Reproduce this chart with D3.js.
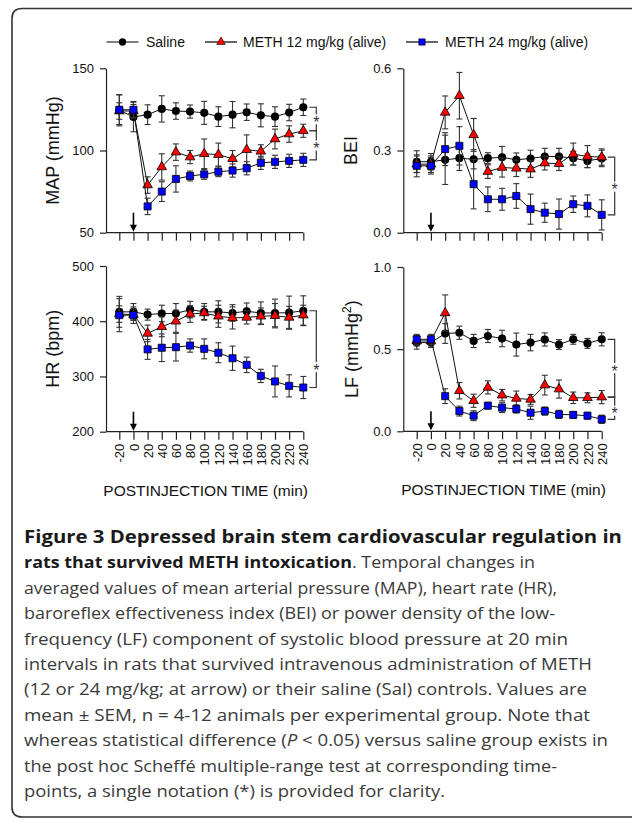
<!DOCTYPE html>
<html><head><meta charset="utf-8">
<script src="https://cdn.jsdelivr.net/npm/d3@7"></script>
<style>body{margin:0;background:#fff}svg{display:block}</style>
</head><body><div id="chart"></div>
<script>
// ---------------- DATA ----------------
const timePoints = [-20, 0, 20, 40, 60, 80, 100, 120, 140, 160, 180, 200, 220, 240];
const timeTickLabels = ["-20","0","20","40","60","80","100","120","140","160","180","200","220","240"];
const seriesNames = ["Saline", "METH 12 mg/kg (alive)", "METH 24 mg/kg (alive)"];

const mapSaline    = [124.5,120.4,121.8,125.3,124,123.7,122.9,120.6,121.8,123.3,121.4,120.6,123.1,126.3];
const mapSalineSem = [9.5,9,6,8,5,4,7,6,8,5,7,6,5,5];
const mapMeth12    = [124,124,79,90,99,96,98,97.5,95,100.5,99.5,107,110,112];
const mapMeth12Sem = [5,4,5,8,5,4,9,7,5,9,4,6,5,4];
const mapMeth24    = [124.8,124.8,66,75,82.7,84.5,85.5,87.1,87.8,89.2,92.5,93.1,93.7,94.3];
const mapMeth24Sem = [9,5,5,6,8,3,3,3,4,4,4,4,4,4];
const mapTicks = [50, 100, 150];

const beiSaline    = [0.259,0.259,0.266,0.272,0.268,0.272,0.275,0.266,0.271,0.278,0.278,0.272,0.262,0.271];
const beiSalineSem = [0.04,0.03,0.09,0.045,0.035,0.02,0.04,0.025,0.03,0.03,0.03,0.025,0.025,0.03];
const beiMeth12    = [0.25,0.25,0.439,0.5,0.357,0.223,0.238,0.235,0.232,0.254,0.252,0.287,0.278,0.276];
const beiMeth12Sem = [0.03,0.03,0.06,0.085,0.06,0.025,0.035,0.03,0.03,0.025,0.025,0.04,0.04,0.03];
const beiMeth24    = [0.244,0.244,0.305,0.317,0.177,0.122,0.122,0.134,0.086,0.073,0.068,0.104,0.098,0.065];
const beiMeth24Sem = [0.04,0.03,0.06,0.07,0.09,0.045,0.04,0.045,0.055,0.035,0.055,0.03,0.04,0.055];
const beiTicks = [0, 0.3, 0.6];

const hrSaline    = [417,417,412,414,414,421,417,417,415,418,415,415,415.5,419];
const hrSalineSem = [28,15,10,15,18,15,15,20,15,15,20,25,30,27];
const hrMeth12    = [413,412,378,390,400,413,415,409,406,407,409,410,407,411];
const hrMeth12Sem = [15,10,15,18,20,15,12,20,20,12,15,22,20,18];
const hrMeth24    = [411,411,349,352,353,356,350,343,333,321,301,291,283,280];
const hrMeth24Sem = [30,15,18,25,25,12,18,18,22,14,12,28,20,20];
const hrTicks = [200, 300, 400, 500];

const lfSaline    = [0.54,0.54,0.595,0.6,0.55,0.58,0.565,0.528,0.54,0.559,0.528,0.56,0.535,0.56];
const lfSalineSem = [0.04,0.03,0.06,0.04,0.04,0.04,0.05,0.07,0.05,0.04,0.03,0.03,0.03,0.04];
const lfMeth12    = [0.55,0.55,0.72,0.247,0.186,0.267,0.22,0.2,0.194,0.281,0.257,0.204,0.204,0.208];
const lfMeth12Sem = [0.03,0.03,0.11,0.05,0.04,0.04,0.035,0.045,0.03,0.06,0.055,0.035,0.03,0.04];
const lfMeth24    = [0.56,0.56,0.214,0.123,0.095,0.156,0.144,0.136,0.113,0.123,0.103,0.1,0.095,0.073];
const lfMeth24Sem = [0.03,0.03,0.045,0.03,0.03,0.02,0.03,0.025,0.04,0.025,0.025,0.02,0.02,0.025];
const lfTicks = [0, 0.5, 1.0];

// significance brackets: [from series, to series, asterisk value]
const mapBrackets = [[0,1,119],[1,2,103]];
const beiBrackets = [[1,2,0.168]];
const hrBrackets  = [[0,2,317]];
const lfBrackets  = [[0,1,0.384],[1,2,0.125]];

const captionLines = [
  [{t:"Figure 3 Depressed brain stem cardiovascular regulation in", b:1}],
  [{t:"rats that survived METH intoxication", b:1},{t:". Temporal changes in"}],
  [{t:"averaged values of mean arterial pressure (MAP), heart rate (HR),"}],
  [{t:"baroreflex effectiveness index (BEI) or power density of the low-"}],
  [{t:"frequency (LF) component of systolic blood pressure at 20 min"}],
  [{t:"intervals in rats that survived intravenous administration of METH"}],
  [{t:"(12 or 24 mg/kg; at arrow) or their saline (Sal) controls. Values are"}],
  [{t:"mean \u00b1 SEM, n = 4-12 animals per experimental group. Note that"}],
  [{t:"whereas statistical difference ("},{t:"P",i:1},{t:" < 0.05) versus saline group exists in"}],
  [{t:"the post hoc Scheff\u00e9 multiple-range test at corresponding time-"}],
  [{t:"points, a single notation (*) is provided for clarity."}]
];
const captionEnds = [622,535,557,555,568,592,587,590,608,557,445];

// ---------------- LAYOUT ----------------
const W = 632, H = 820;
const FONT = "'Liberation Sans', Arial, Helvetica, sans-serif";
const colors = ["#000000", "#ff0000", "#0000ff"];
const symbols = [d3.symbolCircle, d3.symbolTriangle, d3.symbolSquare];
const symSizes = [52, 40, 50];

const svg = d3.select("#chart").append("svg").attr("width", W).attr("height", H)
  .style("font-family", FONT);

// frame
svg.append("path")
  .attr("d", `M ${W+20} 8.5 H 22 Q 12 8.5 12 18.5 V 807 Q 12 817 22 817 H ${W+20}`)
  .attr("fill", "none").attr("stroke", "#333").attr("stroke-width", 1.6);

// legend
const legendItems = [
  {x0:106.5, x1:138.5, tx:146},
  {x0:205, x1:237, tx:243},
  {x0:406, x1:438, tx:445}
];
const lg = svg.append("g");
seriesNames.forEach((name, i) => {
  const it = legendItems[i], cy = 42;
  lg.append("line").attr("x1", it.x0).attr("x2", it.x1).attr("y1", cy).attr("y2", cy)
    .attr("stroke", "#000").attr("stroke-width", 1.2);
  lg.append("path").attr("d", d3.symbol(symbols[i], symSizes[i] * 0.8)())
    .attr("transform", `translate(${(it.x0 + it.x1) / 2},${cy})`)
    .attr("fill", colors[i]).attr("stroke", i === 0 ? "none" : "#000").attr("stroke-width", 0.6);
  lg.append("text").attr("x", it.tx).attr("y", cy).attr("dy", "0.36em")
    .attr("font-size", 14).attr("fill", "#111").text(name);
});

const panels = [
  {label:"MAP (mmHg)", ax:106, x0:119.3, x1:303.3, yTop:68.3, yBot:232.7, domain:[50,150],
   ticks:mapTicks, fmt:d3.format("d"), series:[[mapSaline,mapSalineSem],[mapMeth12,mapMeth12Sem],[mapMeth24,mapMeth24Sem]],
   brackets:mapBrackets, showX:false, labelX:52.5},
  {label:"BEI", ax:403.3, x0:416.7, x1:601.7, yTop:68.3, yBot:232.7, domain:[0,0.6],
   ticks:beiTicks, fmt:d3.format(".1f"), series:[[beiSaline,beiSalineSem],[beiMeth12,beiMeth12Sem],[beiMeth24,beiMeth24Sem]],
   brackets:beiBrackets, showX:false, labelX:351},
  {label:"HR (bpm)", ax:106, x0:119.3, x1:303.3, yTop:266, yBot:431.7, domain:[200,500],
   ticks:hrTicks, fmt:d3.format("d"), series:[[hrSaline,hrSalineSem],[hrMeth12,hrMeth12Sem],[hrMeth24,hrMeth24Sem]],
   brackets:hrBrackets, showX:true, labelX:52.5},
  {label:"LF", ax:403.3, x0:416.7, x1:601.7, yTop:267, yBot:431.3, domain:[0,1],
   ticks:lfTicks, fmt:d3.format(".1f"), series:[[lfSaline,lfSalineSem],[lfMeth12,lfMeth12Sem],[lfMeth24,lfMeth24Sem]],
   brackets:lfBrackets, showX:true, labelX:352, sup:true}
];

panels.forEach(p => {
  const g = svg.append("g");
  const x = d3.scaleLinear().domain([timePoints[0], timePoints[timePoints.length-1]]).range([p.x0, p.x1]);
  const y = d3.scaleLinear().domain(p.domain).range([p.yBot, p.yTop]);

  // y axis
  const ya = g.append("g").attr("transform", `translate(${p.ax},0)`)
    .call(d3.axisLeft(y).tickValues(p.ticks).tickFormat(p.fmt).tickSize(6).tickSizeOuter(0).tickPadding(6));
  ya.select(".domain").attr("stroke", "#222").attr("stroke-width", 1.2);
  ya.selectAll(".tick line").attr("stroke", "#222").attr("stroke-width", 1.2);
  ya.selectAll(".tick text").attr("font-size", 13).attr("fill", "#111").style("font-family", FONT);

  // x axis
  const xa = g.append("g").attr("transform", `translate(0,${p.yBot})`)
    .call(d3.axisBottom(x).tickValues(timePoints).tickFormat((d, i) => timeTickLabels[i]).tickSize(8).tickSizeOuter(0));
  xa.select(".domain").remove();
  xa.append("line").attr("x1", p.ax).attr("x2", p.x1).attr("y1", 0).attr("y2", 0)
    .attr("stroke", "#222").attr("stroke-width", 1.2);
  xa.selectAll(".tick line").attr("stroke", "#222").attr("stroke-width", 1.2);
  if (p.showX) {
    xa.selectAll(".tick text").attr("font-size", 13).attr("fill", "#111").style("font-family", FONT)
      .attr("transform", "rotate(-90)").attr("x", -12).attr("y", 0).attr("dy", "0.36em")
      .style("text-anchor", "end");
    g.append("text").attr("x", (p.ax + p.x1) / 2 + 1).attr("y", p.yBot + 64)
      .attr("text-anchor", "middle").attr("font-size", 15.5).attr("fill", "#111")
      .text("POSTINJECTION TIME (min)");
  } else {
    xa.selectAll(".tick text").remove();
  }

  // y label
  const cy = (p.yTop + p.yBot) / 2;
  const yl = g.append("text").attr("transform", `translate(${p.labelX},${cy}) rotate(-90)`)
    .attr("text-anchor", "middle").attr("dy", "0.36em").attr("font-size", 18).attr("fill", "#111");
  if (p.sup) {
    yl.append("tspan").text("LF (mmHg");
    yl.append("tspan").attr("font-size", 12).attr("dy", "-0.6em").text("2");
    yl.append("tspan").attr("dy", "0.4em").text(")");
  } else yl.text(p.label);

  // arrow at time 0
  const axz = x(0);
  g.append("line").attr("x1", axz).attr("x2", axz).attr("y1", p.yBot - 20).attr("y2", p.yBot - 6)
    .attr("stroke", "#000").attr("stroke-width", 1.6);
  g.append("path").attr("d", `M${axz - 3.5},${p.yBot - 8} L${axz + 3.5},${p.yBot - 8} L${axz},${p.yBot - 1} Z`)
    .attr("fill", "#000");

  // series
  p.series.forEach(([vals, sems], si) => {
    const pts = timePoints.map((t, i) => ({t, v: vals[i], e: sems[i]}));
    const sg = g.append("g");
    sg.append("path").datum(pts)
      .attr("d", d3.line().x(d => x(d.t)).y(d => y(d.v)))
      .attr("fill", "none").attr("stroke", "#111").attr("stroke-width", 1);
    const eb = sg.selectAll(".eb").data(pts).enter().append("g");
    eb.append("line").attr("x1", d => x(d.t)).attr("x2", d => x(d.t))
      .attr("y1", d => y(d.v - d.e)).attr("y2", d => y(d.v + d.e))
      .attr("stroke", "#333").attr("stroke-width", 1.1);
    [-1, 1].forEach(s => {
      eb.append("line").attr("x1", d => x(d.t) - 3).attr("x2", d => x(d.t) + 3)
        .attr("y1", d => y(d.v + s * d.e)).attr("y2", d => y(d.v + s * d.e))
        .attr("stroke", "#333").attr("stroke-width", 1.1);
    });
    sg.selectAll(".mk").data(pts).enter().append("path")
      .attr("d", d3.symbol(symbols[si], symSizes[si])())
      .attr("transform", d => `translate(${x(d.t)},${y(d.v)})`)
      .attr("fill", colors[si]).attr("stroke", si === 0 ? "none" : "#000").attr("stroke-width", 0.8);
  });

  // brackets
  const bx0 = p.x1 + 6, bx1 = p.x1 + 13;
  p.brackets.forEach(([a, b, sv]) => {
    const ya1 = y(p.series[a][0][timePoints.length - 1]);
    const yb1 = y(p.series[b][0][timePoints.length - 1]);
    g.append("path").attr("d", `M${bx0},${ya1} H${bx1} V${yb1} H${bx0}`)
      .attr("fill", "none").attr("stroke", "#333").attr("stroke-width", 1.2);
    const sy = y(sv);
    g.append("rect").attr("x", bx1 - 4).attr("y", sy - 5).attr("width", 8).attr("height", 10).attr("fill", "#fff");
    g.append("text").attr("x", bx1).attr("y", sy + 8.5).attr("text-anchor", "middle")
      .attr("font-size", 16).attr("fill", "#333").text("*");
  });
});

// caption
const cap = svg.append("g").style("font-family", "'Open Sans', 'Noto Sans', sans-serif");
captionLines.forEach((segs, i) => {
  const t = cap.append("text").attr("x", 24).attr("y", 543 + i * 25.4)
    .attr("font-size", i === 0 ? 17 : 16).attr("fill", "#3a3a3a")
    .attr("textLength", captionEnds[i] - 24).attr("lengthAdjust", "spacingAndGlyphs");
  segs.forEach(s => {
    const ts = t.append("tspan").text(s.t);
    if (s.b) ts.attr("font-weight", "bold").attr("fill", "#1a1a1a");
    if (s.i) ts.attr("font-style", "italic");
  });
});
</script>
</body></html>
